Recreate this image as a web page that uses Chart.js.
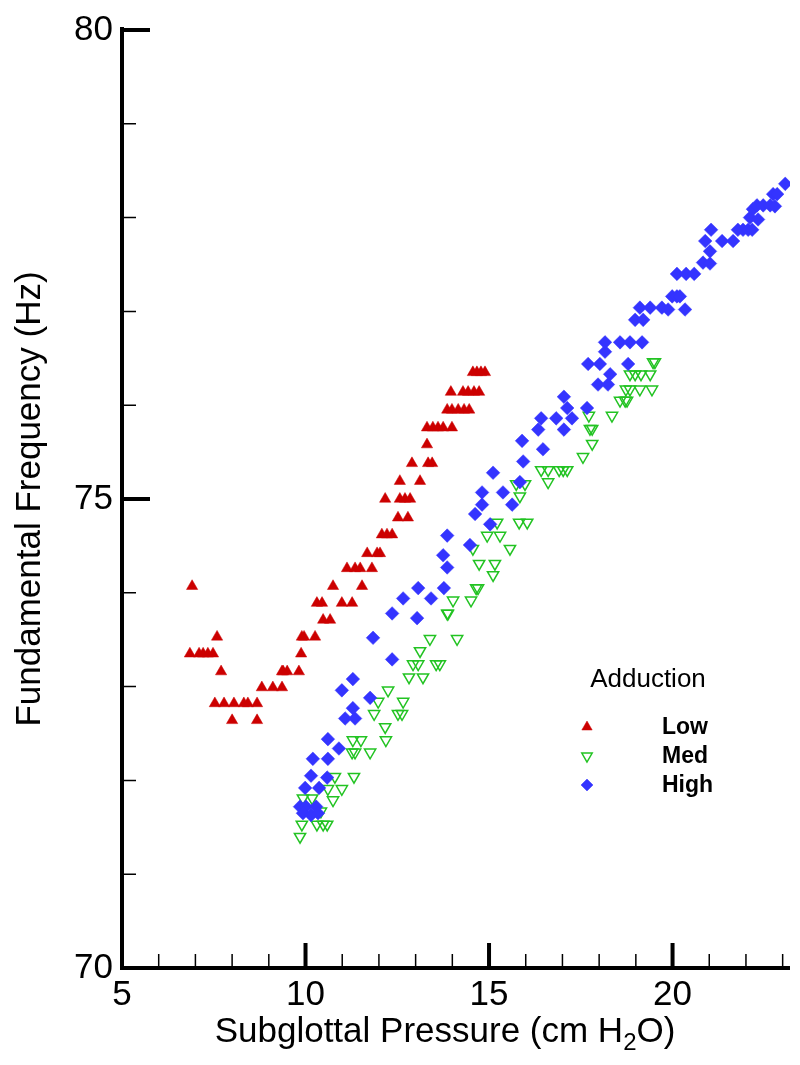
<!DOCTYPE html>
<html><head><meta charset="utf-8">
<script src="https://cdn.jsdelivr.net/npm/chart.js@4.4.1/dist/chart.umd.min.js"></script>
<style>html,body{margin:0;padding:0;background:#fff}#wrap{width:800px;height:1065px;position:relative}</style>
</head><body><div id="wrap"><canvas id="c"></canvas></div>
<script>
const FONT = '"Liberation Sans", Arial, Helvetica, sans-serif';
const seriesLabels = ['Low', 'Med', 'High'];
const legendTitle = 'Adduction';
const xTitleParts = ['Subglottal Pressure (cm H', '2', 'O)'];
const yTitle = 'Fundamental Frequency (Hz)';
const xMajorTicks = [5, 10, 15, 20];
const xMinorTicks = [6, 7, 8, 9, 11, 12, 13, 14, 16, 17, 18, 19, 21, 22, 23];
const yMajorTicks = [70, 75, 80];
const yMinorTicks = [71, 72, 73, 74, 76, 77, 78, 79];

// Low adduction (red filled triangles)
const lowX = [14.56,14.67,14.78,14.89, 13.96,14.29,14.43,14.59,14.73, 13.86,13.99,14.16,14.32,14.46,
  13.31,13.47,13.61,13.75,13.99, 13.31, 12.90,13.34,13.45, 12.57,13.12, 12.17,12.57,12.71,12.85,
  12.52,12.79, 12.08,12.22,12.36, 11.68,11.95,12.03, 11.13,11.35,11.49,11.81, 6.91,10.75,11.54,
  10.31,10.45,10.99,11.27, 10.48,10.67, 7.59,9.90,9.96,10.26, 6.85,7.10,7.21,7.34,7.48,9.88,
  7.70,9.36,9.39,9.50,9.82, 8.81,9.11,9.36, 7.53,7.78,8.05,8.32,8.43,8.68, 8.00,8.68];
const lowY = [76.35,76.35,76.35,76.35, 76.14,76.14,76.14,76.14,76.14, 75.95,75.95,75.95,75.95,75.95,
  75.76,75.76,75.76,75.76,75.76, 75.58, 75.38,75.38,75.38, 75.19,75.19, 75.00,75.00,75.00,75.00,
  74.80,74.80, 74.62,74.62,74.62, 74.42,74.42,74.42, 74.26,74.26,74.26,74.26, 74.07,74.07,74.07,
  73.89,73.89,73.89,73.89, 73.71,73.71, 73.53,73.53,73.53,73.53, 73.35,73.35,73.35,73.35,73.35,73.35,
  73.16,73.16,73.16,73.16,73.16, 72.99,72.99,72.99, 72.82,72.82,72.82,72.82,72.82,72.82, 72.64,72.64];

// Medium adduction (green open inverted triangles)
const medX = [9.85, 9.90,10.31,10.48,10.59, 10.42, 9.93,10.18,10.75, 10.61,10.99, 10.80,11.32,
  11.27,11.35,11.76, 11.29,11.51,12.19, 12.17, 11.87,12.52,12.63, 11.98,12.66, 12.25, 12.82,13.20,
  12.93,13.07,13.56,13.66, 13.12, 13.39,14.13, 13.86,13.88, 14.02,14.51, 14.65,14.70, 15.11,
  14.73,15.16, 14.56,15.57, 14.95,15.30, 15.22,15.82,16.04, 15.84, 15.74,15.98,16.61,
  16.42,16.61,16.91,17.02,17.13, 17.56, 17.81, 17.75,17.81, 17.72,18.35, 18.57,18.71,18.76,
  18.73,18.84,19.11,19.44, 18.84,18.98,19.14,19.39, 19.47,19.52];
const medY = [71.40, 71.53,71.53,71.53,71.53, 71.67, 71.81,71.81,71.79, 71.91,71.91, 72.04,72.04,
  72.30,72.30,72.30, 72.43,72.43,72.43, 72.57, 72.71,72.71,72.71, 72.84,72.84, 72.96, 73.10,73.10,
  73.24,73.24,73.24,73.24, 73.38, 73.51,73.51, 73.78,73.78, 73.92,73.92, 74.05,74.05, 74.19,
  74.31,74.31, 74.47,74.47, 74.61,74.61, 74.75,74.75,74.75, 75.03, 75.16,75.16,75.18,
  75.31,75.31,75.31,75.31,75.31, 75.45, 75.59, 75.75,75.75, 75.89,75.89, 76.05,76.05,76.05,
  76.17,76.17,76.17,76.17, 76.33,76.33,76.33,76.33, 76.46,76.46];

// High adduction (blue filled diamonds)
const highX = [9.85,10.01,10.29,9.93,10.15,10.34, 9.99,10.37, 10.15,10.59, 10.20,10.61, 10.61,10.91,
  11.08,11.35,11.29, 10.99,11.29,11.76, 12.36, 11.84, 12.36,13.04, 12.66,13.42, 13.07,13.77,
  13.75,13.86, 13.86,14.48, 14.62,15.03, 14.81,15.38, 14.81,15.63, 15.11,15.84, 15.93, 16.47,
  15.90, 16.34,17.04, 16.42,16.83,17.26, 17.13,17.67, 17.04, 17.97,18.24, 18.30, 17.70,18.02,18.79,
  18.16, 18.16,18.57,18.84,19.17, 18.98,19.20, 19.11,19.39,19.71,19.88,20.34, 19.99,20.12,20.20,
  20.12,20.37,20.59, 20.83,21.02, 21.02, 20.89,21.35,21.65, 21.05,21.78,21.92,22.06,22.17,
  22.11,22.33, 22.19,22.30,22.47,22.66,22.79, 22.74,22.85, 23.07];
const highY = [71.72,71.72,71.72,71.65,71.63,71.65, 71.92,71.92, 72.05,72.03, 72.23,72.23, 72.44,72.34,
  72.66,72.66,72.77, 72.96,73.08,72.88, 73.29, 73.52, 73.78,73.73, 73.94,73.94, 74.05,74.05,
  74.40,74.27, 74.61,74.51, 74.84,74.73, 75.07,75.07, 74.94,74.94, 75.28,75.18, 75.40, 75.53,
  75.62, 75.74,75.74, 75.86,75.86,75.86, 75.97,75.97, 76.09, 76.22,76.22, 76.33, 76.44,76.44,76.44,
  76.57, 76.67,76.67,76.67,76.67, 76.91,76.91, 77.04,77.04,77.04,77.02,77.02, 77.16,77.16,77.16,
  77.40,77.40,77.40, 77.52,77.51, 77.64, 77.75,77.75,77.75, 77.87,77.87,77.87,77.87,77.87,
  78.00,77.98, 78.09,78.13,78.13,78.13,78.12, 78.25,78.25, 78.36];

const seriesX = [lowX, medX, highX];
const seriesY = [lowY, medY, highY];
const seriesColors = ['#cc0000', '#22c322', '#3434ff'];

function pts(xs, ys) { return xs.map((x, i) => ({x: x, y: ys[i]})); }

const axesPlugin = {
  id: 'axesPlugin',
  afterDraw(chart) {
    const ctx = chart.ctx, xs = chart.scales.x, ys = chart.scales.y, a = chart.chartArea;
    ctx.save();
    ctx.strokeStyle = '#000';
    ctx.lineCap = 'butt';
    ctx.lineWidth = 4;
    ctx.beginPath();
    ctx.moveTo(a.left, a.top - 3); ctx.lineTo(a.left, a.bottom + 2);
    ctx.moveTo(a.left - 2, a.bottom); ctx.lineTo(a.right, a.bottom);
    ctx.stroke();
    ctx.beginPath();
    xMajorTicks.forEach(v => { const p = xs.getPixelForValue(v); ctx.moveTo(p, a.bottom); ctx.lineTo(p, a.bottom - 25); });
    yMajorTicks.forEach(v => { const p = ys.getPixelForValue(v); ctx.moveTo(a.left, p); ctx.lineTo(a.left + 28, p); });
    ctx.stroke();
    ctx.lineWidth = 1.5;
    ctx.beginPath();
    xMinorTicks.forEach(v => { const p = xs.getPixelForValue(v); ctx.moveTo(p, a.bottom); ctx.lineTo(p, a.bottom - 14); });
    yMinorTicks.forEach(v => { const p = ys.getPixelForValue(v); ctx.moveTo(a.left, p); ctx.lineTo(a.left + 14, p); });
    ctx.stroke();

    // x-axis title with a real subscript
    const big = '35px ' + FONT, small = '24px ' + FONT;
    ctx.fillStyle = '#000';
    ctx.textBaseline = 'alphabetic';
    ctx.textAlign = 'left';
    ctx.font = big; const w0 = ctx.measureText(xTitleParts[0]).width;
    ctx.font = small; const w1 = ctx.measureText(xTitleParts[1]).width;
    ctx.font = big; const w2 = ctx.measureText(xTitleParts[2]).width;
    let x = 445 - (w0 + w1 + w2) / 2;
    const base = 1042;
    ctx.font = big; ctx.fillText(xTitleParts[0], x, base); x += w0;
    ctx.font = small; ctx.fillText(xTitleParts[1], x, base + 8); x += w1;
    ctx.font = big; ctx.fillText(xTitleParts[2], x, base);
    ctx.restore();
  }
};

const legendPlugin = {
  id: 'legendPlugin',
  afterDraw(chart) {
    const ctx = chart.ctx;
    ctx.save();
    ctx.fillStyle = '#000';
    ctx.font = '26px ' + FONT;
    ctx.textAlign = 'center';
    ctx.textBaseline = 'middle';
    ctx.fillText(legendTitle, 648, 680);
    const rowsY = [727, 756, 785];
    chart.data.datasets.forEach((ds, i) => {
      ctx.fillStyle = ds.backgroundColor;
      ctx.strokeStyle = ds.borderColor;
      ctx.lineWidth = ds.borderWidth;
      Chart.helpers.drawPoint(ctx, {pointStyle: ds.pointStyle, rotation: ds.pointRotation || 0,
        radius: ds.legendRadius, borderWidth: ds.borderWidth}, 587, rowsY[i]);
      ctx.fillStyle = '#000';
      ctx.font = 'bold 23px ' + FONT;
      ctx.textAlign = 'left';
      ctx.fillText(ds.label, 662, rowsY[i] + 1);
    });
    ctx.restore();
  }
};

new Chart(document.getElementById('c'), {
  type: 'scatter',
  data: {
    datasets: [
      {label: seriesLabels[0], data: pts(seriesX[0], seriesY[0]), pointStyle: 'triangle', pointRadius: 6.5, legendRadius: 6,
        backgroundColor: seriesColors[0], borderColor: seriesColors[0], borderWidth: 0.5, order: 2},
      {label: seriesLabels[1], data: pts(seriesX[1], seriesY[1]), pointStyle: 'triangle', pointRotation: 180, pointRadius: 6.5, legendRadius: 6,
        backgroundColor: 'rgba(255,255,255,0)', borderColor: seriesColors[1], borderWidth: 1.5, order: 1},
      {label: seriesLabels[2], data: pts(seriesX[2], seriesY[2]), pointStyle: 'rectRot', pointRadius: 6.8, legendRadius: 6,
        backgroundColor: seriesColors[2], borderColor: seriesColors[2], borderWidth: 0.5, order: 0}
    ]
  },
  options: {
    responsive: true,
    maintainAspectRatio: false,
    animation: false,
    events: [],
    layout: {padding: {top: 27, right: 10, left: 0, bottom: 0}},
    plugins: {legend: {display: false}, tooltip: {enabled: false}},
    scales: {
      x: {
        type: 'linear', min: 5, max: 23.2,
        grid: {display: false, drawTicks: false}, border: {display: false},
        afterBuildTicks: s => { s.ticks = xMajorTicks.map(v => ({value: v})); },
        afterFit: s => { s.height = 97; },
        ticks: {padding: 6, color: '#000', font: {family: FONT, size: 35}, maxRotation: 0},
        title: {display: false}
      },
      y: {
        type: 'linear', min: 70, max: 80,
        grid: {display: false, drawTicks: false}, border: {display: false},
        afterBuildTicks: s => { s.ticks = yMajorTicks.map(v => ({value: v})); },
        afterFit: s => { s.width = 122; },
        ticks: {padding: 9, color: '#000', font: {family: FONT, size: 35}},
        title: {display: true, text: yTitle, color: '#000', font: {family: FONT, size: 35}, padding: {top: 9, bottom: 0}}
      }
    }
  },
  plugins: [axesPlugin, legendPlugin]
});
</script></body></html>
